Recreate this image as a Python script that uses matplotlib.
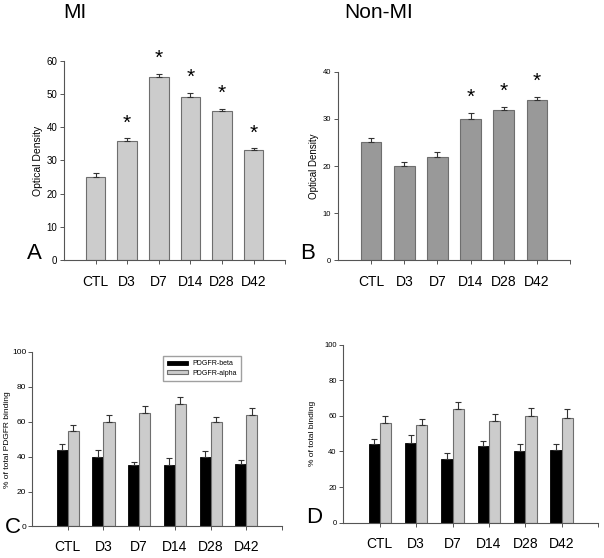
import numpy as np
import matplotlib
matplotlib.use("Agg")
import matplotlib.pyplot as plt

plt.rcParams['font.family'] = ['Liberation Sans', 'DejaVu Sans']

# data
days = ['CTL', 'D3', 'D7', 'D14', 'D28', 'D42']

mi_od = [25, 36, 55, 49, 45, 33]
mi_err = [1.2, 0.7, 1.0, 1.3, 0.6, 0.7]
mi_sig = [False, True, True, True, True, True]

nonmi_od = [25, 20, 22, 30, 32, 34]
nonmi_err = [1.0, 0.75, 0.95, 1.3, 0.6, 0.7]
nonmi_sig = [False, False, False, True, True, True]

mi_beta = [44, 40, 35, 35, 40, 36]
mi_beta_err = [3, 4, 2, 4, 3, 2]
mi_alpha = [55, 60, 65, 70, 60, 64]
mi_alpha_err = [3, 4, 4, 4.4, 3, 4]

nonmi_beta = [44, 45, 36, 43, 40, 41]
nonmi_beta_err = [3, 4, 3, 3, 4, 3]
nonmi_alpha = [56, 55, 64, 57, 60, 59]
nonmi_alpha_err = [4, 3, 4, 4, 4.6, 5]

light = '#cccccc'
mid = '#999999'
edge = '#6e6e6e'
spine = '#555555'

fig = plt.figure(figsize=(6.04, 5.58), dpi=100)


def style(ax, ymax, ystep, ysize, xpad, ypad=2):
    ax.set_xlim(-1, 6)
    ax.set_ylim(0, ymax)
    ax.set_yticks(np.arange(0, ymax + 1, ystep))
    ax.set_xticks(range(7))
    ax.set_xticklabels(days + [''])
    for s in ['top', 'right']:
        ax.spines[s].set_visible(False)
    for s in ['left', 'bottom']:
        ax.spines[s].set_color(spine)
        ax.spines[s].set_linewidth(0.8)
    ax.tick_params(axis='y', length=3, width=0.7, color=spine, labelsize=ysize, pad=ypad)
    ax.tick_params(axis='x', length=3, width=0.7, color=spine, labelsize=10, pad=xpad)


def single(ax, vals, errs, sig, color):
    x = np.arange(len(vals))
    ax.bar(x, vals, 0.62, color=color, edgecolor=edge, linewidth=0.8,
           yerr=[np.zeros(len(errs)), errs], capsize=2.5,
           error_kw=dict(ecolor='#333333', elinewidth=0.8, capthick=0.8))
    for xi, v, e, s in zip(x, vals, errs, sig):
        if s:
            ax.annotate('*', (xi, v + e), xytext=(0, 11), textcoords='offset points',
                        ha='center', va='center', fontsize=15, annotation_clip=False)


def paired(ax, beta, beta_err, alpha, alpha_err):
    x = np.arange(len(beta))
    w = 0.31
    kw = dict(ecolor='#333333', elinewidth=0.8, capthick=0.8)
    ax.bar(x - w / 2, beta, w, color='black', edgecolor='black', linewidth=0.6,
           yerr=[np.zeros(len(beta)), beta_err], capsize=2.5, error_kw=kw,
           label='PDGFR-beta')
    ax.bar(x + w / 2, alpha, w, color=light, edgecolor=edge, linewidth=0.8,
           yerr=[np.zeros(len(alpha)), alpha_err], capsize=2.5, error_kw=kw,
           label='PDGFR-alpha')


# A
axA = fig.add_axes([0.106, 0.534, 0.366, 0.357])
single(axA, mi_od, mi_err, mi_sig, light)
style(axA, 60, 10, 7, 8)
axA.set_ylabel('Optical Density', fontsize=7.5, labelpad=2)

# B
axB = fig.add_axes([0.5596, 0.534, 0.384, 0.337])
single(axB, nonmi_od, nonmi_err, nonmi_sig, mid)
style(axB, 40, 10, 5.5, 8)
axB.set_ylabel('Optical Density', fontsize=7, labelpad=3)

# C
axC = fig.add_axes([0.053, 0.0565, 0.414, 0.3127])
paired(axC, mi_beta, mi_beta_err, mi_alpha, mi_alpha_err)
style(axC, 100, 20, 6, 7, ypad=1)
axC.set_ylabel('% of total PDGFR binding', fontsize=6, labelpad=1)
axC.legend(loc='upper left', bbox_to_anchor=(0.51, 0.995), fontsize=5,
           frameon=True, fancybox=False, edgecolor='#888888', handlelength=3.0,
           handleheight=0.6, borderpad=0.6, labelspacing=0.3, handletextpad=0.6)

# D
axD = fig.add_axes([0.5687, 0.0633, 0.4214, 0.319])
paired(axD, nonmi_beta, nonmi_beta_err, nonmi_alpha, nonmi_alpha_err)
style(axD, 100, 20, 5.5, 7)
axD.set_ylabel('% of total binding', fontsize=6, labelpad=6)

# titles and panel letters
fig.text(63 / 604, 1 - 13 / 558, 'MI', fontsize=15, va='center', ha='left')
fig.text(344 / 604, 1 - 13 / 558, 'Non-MI', fontsize=15, va='center', ha='left')
fig.text(27 / 604, 1 - 259 / 558, 'A', fontsize=16, va='baseline', ha='left')
fig.text(300 / 604, 1 - 259 / 558, 'B', fontsize=16, va='baseline', ha='left')
fig.text(5 / 604, 1 - 533 / 558, 'C', fontsize=16, va='baseline', ha='left')
fig.text(306 / 604, 1 - 523 / 558, 'D', fontsize=16, va='baseline', ha='left')

fig.savefig('out.png', dpi=100)
